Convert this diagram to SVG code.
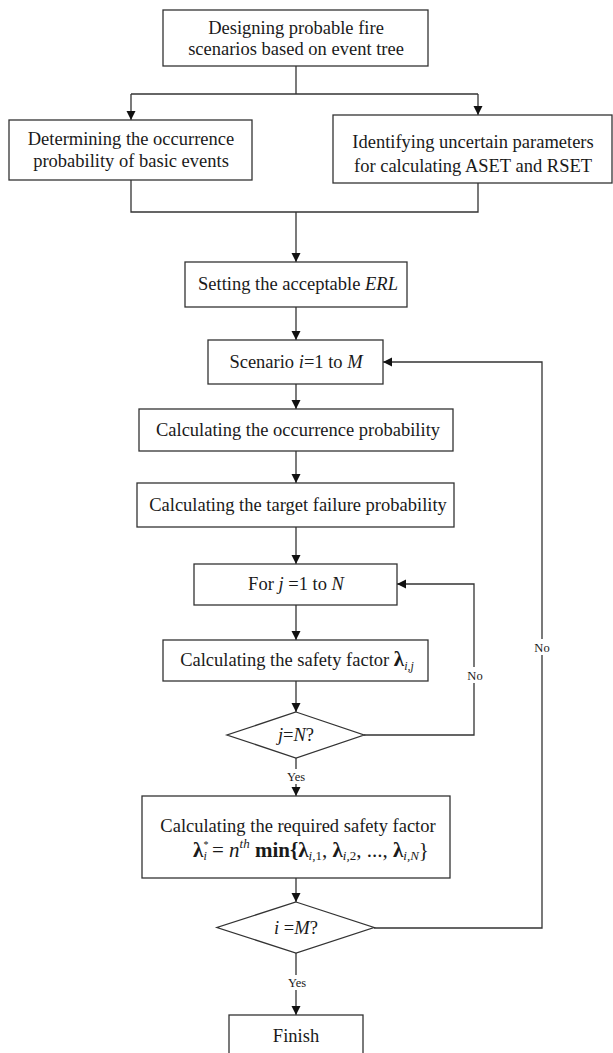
<svg xmlns="http://www.w3.org/2000/svg" width="613" height="1053" viewBox="0 0 613 1053">
<style>
.box{fill:#fff;stroke:#333;stroke-width:1.3}
.t{font-family:"Liberation Serif","Times New Roman",serif;font-size:18.5px;fill:#1a1a1a;text-anchor:middle}
.i{font-style:italic}
.sm{font-family:"Liberation Serif","Times New Roman",serif;font-size:12.5px;fill:#1a1a1a;text-anchor:middle}
.ln{fill:none;stroke:#333;stroke-width:1.3}
</style>
<defs>
<marker id="ah" markerWidth="10" markerHeight="10" refX="9" refY="4.5" orient="auto" markerUnits="userSpaceOnUse">
<path d="M0,0 L9,4.5 L0,9 Z" fill="#111"/>
</marker>
</defs>
<rect width="613" height="1053" fill="#fff"/>
<g id="connectors">
<path class="ln" d="M296,66 V94"/>
<path class="ln" d="M131,94 H478"/>
<path class="ln" d="M131,94 V120" marker-end="url(#ah)"/>
<path class="ln" d="M478,94 V115" marker-end="url(#ah)"/>
<path class="ln" d="M131,180 V212 H478 V183"/>
<path class="ln" d="M296,212 V262" marker-end="url(#ah)"/>
<path class="ln" d="M296,307 V340" marker-end="url(#ah)"/>
<path class="ln" d="M296,384 V409" marker-end="url(#ah)"/>
<path class="ln" d="M296,451 V483" marker-end="url(#ah)"/>
<path class="ln" d="M296,527 V564" marker-end="url(#ah)"/>
<path class="ln" d="M296,605 V640" marker-end="url(#ah)"/>
<path class="ln" d="M296,681 V712" marker-end="url(#ah)"/>
<path class="ln" d="M364,735 H474 V584 H397" marker-end="url(#ah)"/>
<path class="ln" d="M296,758 V796" marker-end="url(#ah)"/>
<path class="ln" d="M296,878 V902" marker-end="url(#ah)"/>
<path class="ln" d="M374,928 H542 V362 H383" marker-end="url(#ah)"/>
<path class="ln" d="M296,953 V1015" marker-end="url(#ah)"/>
<rect x="464" y="667" width="20" height="16" fill="#fff"/>
<text class="sm" x="475" y="680">No</text>
<rect x="532" y="639" width="20" height="16" fill="#fff"/>
<text class="sm" x="542" y="652">No</text>
<rect x="284" y="769" width="24" height="15" fill="#fff"/>
<text class="sm" x="296" y="781">Yes</text>
<rect x="284" y="975" width="24" height="15" fill="#fff"/>
<text class="sm" x="297" y="987">Yes</text>
</g>
<g id="n1">
<rect class="box" x="163" y="10" width="265" height="56"/>
<text class="t" x="296" y="34">Designing probable fire</text>
<text class="t" x="296" y="55">scenarios based on event tree</text>
</g>
<g id="n2">
<rect class="box" x="9" y="120" width="243" height="60"/>
<text class="t" x="131" y="145">Determining the occurrence</text>
<text class="t" x="131" y="167">probability of basic events</text>
</g>
<g id="n3">
<rect class="box" x="333" y="115" width="279" height="68"/>
<text class="t" x="473" y="148">Identifying uncertain parameters</text>
<text class="t" x="473" y="172">for calculating ASET and RSET</text>
</g>
<g id="n4">
<rect class="box" x="185" y="262" width="222" height="45"/>
<text class="t" x="298" y="290">Setting the acceptable <tspan class="i">ERL</tspan></text>
</g>
<g id="n5">
<rect class="box" x="208" y="340" width="175" height="44"/>
<text class="t" x="296" y="368">Scenario <tspan class="i">i</tspan>=1 to <tspan class="i">M</tspan></text>
</g>
<g id="n6">
<rect class="box" x="139" y="409" width="314" height="42"/>
<text class="t" x="298" y="436">Calculating the occurrence probability</text>
</g>
<g id="n7">
<rect class="box" x="137" y="483" width="317" height="44"/>
<text class="t" x="298" y="511">Calculating the target failure probability</text>
</g>
<g id="n8">
<rect class="box" x="194" y="564" width="203" height="41"/>
<text class="t" x="296" y="590">For <tspan class="i">j</tspan> =1 to <tspan class="i">N</tspan></text>
</g>
<g id="n9">
<rect class="box" x="163" y="640" width="265" height="41"/>
<text class="t" x="297" y="666">Calculating the safety factor <tspan font-size="21" font-weight="bold">λ</tspan><tspan class="i" font-size="12" dy="4">i,j</tspan></text>
</g>
<g id="n10">
<polygon class="box" points="296,712 364,735 296,758 227,735"/>
<text class="t" x="296" y="741"><tspan class="i">j</tspan>=<tspan class="i">N</tspan>?</text>
</g>
<g id="n11">
<rect class="box" x="142" y="796" width="308" height="82"/>
<text class="t" x="298" y="832">Calculating the required safety factor</text>
<text class="t" x="311" y="857" style="font-size:21px"><tspan font-weight="bold">λ</tspan><tspan font-size="10" dy="-9">*</tspan><tspan class="i" font-size="12" dx="-5" dy="12">i</tspan><tspan dy="-3"> = </tspan><tspan class="i">n</tspan><tspan class="i" font-size="13" dy="-9">th</tspan><tspan font-weight="bold" dy="9"> min{</tspan><tspan font-weight="bold">λ</tspan><tspan class="i" font-size="13" dy="3">i,</tspan><tspan font-size="13">1</tspan><tspan dy="-3">, </tspan><tspan font-weight="bold">λ</tspan><tspan class="i" font-size="13" dy="3">i,</tspan><tspan font-size="13">2</tspan><tspan dy="-3">, ..., </tspan><tspan font-weight="bold">λ</tspan><tspan class="i" font-size="13" dy="3">i,N</tspan><tspan dy="-3">}</tspan></text>
</g>
<g id="n12">
<polygon class="box" points="296,902 374,927.5 296,953 217,927.5"/>
<text class="t" x="296" y="934"><tspan class="i">i</tspan> =<tspan class="i">M</tspan>?</text>
</g>
<g id="n13">
<rect class="box" x="229" y="1015" width="134" height="50"/>
<text class="t" x="296" y="1042">Finish</text>
</g>
</svg>
